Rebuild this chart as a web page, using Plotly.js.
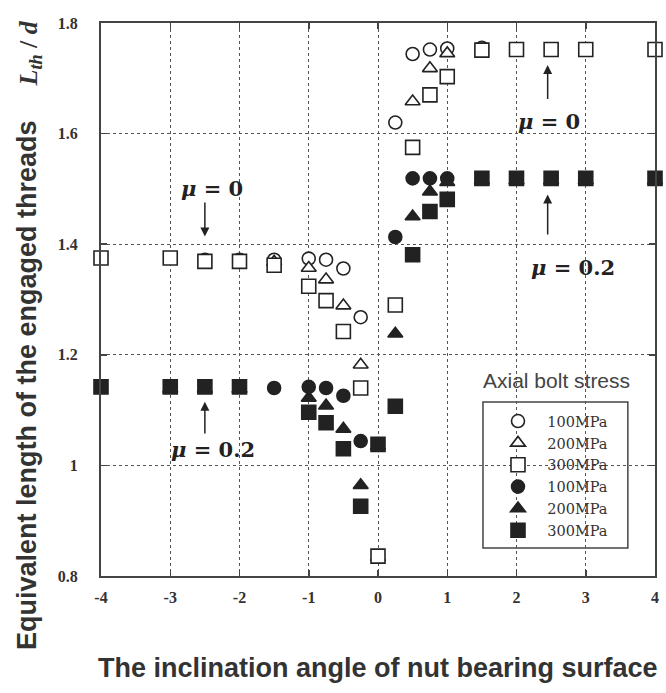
<!DOCTYPE html>
<html>
<head>
<meta charset="utf-8">
<script src="https://cdn.plot.ly/plotly-3.0.1.min.js"></script>
<style>html,body{margin:0;padding:0;background:#fff;}#chart{width:666px;height:693px;}</style>
</head>
<body>
<div id="chart"></div>
<script>
// ---- data (mu = 0, open markers) ----
const openCircleX = [-2.5, -2, -1.5, -1, -0.75, -0.5, -0.25, 0.25, 0.5, 0.75, 1, 1.5];
const openCircleY = [1.372, 1.372, 1.372, 1.374, 1.372, 1.356, 1.268, 1.62, 1.744, 1.752, 1.754, 1.755];
const openTriX = [-1.5, -1, -0.75, -0.5, -0.25, 0, 0.5, 0.75, 1];
const openTriY = [1.368, 1.357, 1.336, 1.289, 1.182, 0.834, 1.658, 1.718, 1.745];
const openSqX = [-4, -3, -2.5, -2, -1.5, -1, -0.75, -0.5, -0.25, 0, 0.25, 0.5, 0.75, 1, 1.5, 2, 2.5, 3, 4];
const openSqY = [1.375, 1.375, 1.369, 1.369, 1.362, 1.324, 1.298, 1.242, 1.14, 0.836, 1.29, 1.575, 1.67, 1.703, 1.751, 1.752, 1.752, 1.752, 1.752];
// ---- data (mu = 0.2, filled markers) ----
const fillCircleX = [-1.5, -1, -0.75, -0.5, -0.25, 0.25, 0.5, 0.75, 1];
const fillCircleY = [1.14, 1.142, 1.14, 1.126, 1.044, 1.413, 1.519, 1.519, 1.519];
const fillTriX = [-3, -2.5, -2, -1, -0.75, -0.5, -0.25, 0, 0.25, 0.5, 0.75, 1, 1.5, 2, 2.5, 3, 4];
const fillTriY = [1.138, 1.138, 1.138, 1.122, 1.108, 1.066, 0.964, 1.035, 1.238, 1.45, 1.495, 1.512, 1.515, 1.515, 1.515, 1.515, 1.515];
const fillSqX = [-4, -3, -2.5, -2, -1, -0.75, -0.5, -0.25, 0, 0.25, 0.5, 0.75, 1, 1.5, 2, 2.5, 3, 4];
const fillSqY = [1.142, 1.142, 1.142, 1.142, 1.096, 1.077, 1.03, 0.926, 1.038, 1.107, 1.381, 1.459, 1.481, 1.519, 1.519, 1.519, 1.519, 1.519];
// ---- labels ----
const seriesNames = ['100MPa', '200MPa', '300MPa', '100MPa', '200MPa', '300MPa'];
const xTickVals = [-4, -3, -2, -1, 0, 1, 2, 3, 4];
const xTickText = ['-4', '-3', '-2', '-1', '0', '1', '2', '3', '4'];
const yTickVals = [0.8, 1, 1.2, 1.4, 1.6, 1.8];
const yTickText = ['0.8', '1', '1.2', '1.4', '1.6', '1.8'];

const ink = '#222';
const nb = '\u00a0\u00a0';
function tr(x, y, name, symbol, fill, size) {
  return {
    x: x, y: y, name: nb + name, type: 'scatter', mode: 'markers',
    marker: {symbol: symbol, size: size, color: fill, line: {color: ink, width: 1.6}},
    cliponaxis: false
  };
}
const data = [
  tr(openCircleX, openCircleY, seriesNames[0], 'circle', '#fff', 13),
  tr(openTriX, openTriY, seriesNames[1], 'triangle-up', '#fff', 13),
  tr(openSqX, openSqY, seriesNames[2], 'square', '#fff', 14),
  tr(fillCircleX, fillCircleY, seriesNames[3], 'circle', ink, 13),
  tr(fillTriX, fillTriY, seriesNames[4], 'triangle-up', ink, 13),
  tr(fillSqX, fillSqY, seriesNames[5], 'square', ink, 14)
];

const tickFont = {family: 'Liberation Serif, Times New Roman, serif', size: 16, color: '#333', weight: 'bold'};
const muFont = {family: 'DejaVu Serif, serif', size: 21, color: '#222', weight: 'bold'};
const axisCommon = {
  showline: true, linecolor: '#444', linewidth: 2, mirror: 'ticks',
  ticks: 'inside', ticklen: 6, tickcolor: '#444', tickwidth: 1.5,
  showgrid: true, gridcolor: '#555', griddash: 'dot', gridwidth: 1,
  zeroline: false, tickfont: tickFont, tickmode: 'array'
};

function ann(x, y, text, font, extra) {
  return Object.assign({xref: 'paper', yref: 'paper', x: x, y: y, text: text, showarrow: false,
    xanchor: 'center', yanchor: 'middle', font: font}, extra || {});
}

const layout = {
  width: 666, height: 693,
  margin: {l: 101, r: 11, t: 23, b: 117},
  paper_bgcolor: '#fff', plot_bgcolor: '#fff',
  showlegend: true,
  xaxis: Object.assign({}, axisCommon, {range: [-4, 4], tickvals: xTickVals, ticktext: xTickText, ticklabelstandoff: 6}),
  yaxis: Object.assign({}, axisCommon, {range: [0.8, 1.8], tickvals: yTickVals, ticktext: yTickText, ticklabelstandoff: 18}),
  legend: {
    x: 0.7166, y: 0.309, xanchor: 'left', yanchor: 'top',
    bgcolor: 'rgba(0,0,0,0)', borderwidth: 0,
    font: {family: 'DejaVu Serif, serif', size: 14.5, color: '#333'},
    itemclick: false
  },
  shapes: [
    {type: 'rect', xref: 'paper', yref: 'paper', x0: 0.6895, x1: 0.951, y0: 0.0506, y1: 0.3146,
     line: {color: '#444', width: 1.5}, fillcolor: 'rgba(255,255,255,1)', layer: 'below'}
  ],
  annotations: [
    ann(0.823, 0.354, 'Axial bolt stress', {family: 'Liberation Sans, Arial, sans-serif', size: 21, color: '#444'}),
    ann(0.5, -0.166, 'The inclination angle of nut bearing surface',
        {family: 'Liberation Sans, Arial, sans-serif', size: 27, color: '#333', weight: 'bold'}),
    ann(-0.1336, 0.3454, 'Equivalent length of the engaged threads',
        {family: 'Liberation Sans, Arial, sans-serif', size: 27, color: '#333', weight: 'bold'}, {textangle: -90}),
    ann(-0.128, 0.945, '<i>L<sub>th</sub></i> / <i>d</i>',
        {family: 'Liberation Serif, Times New Roman, serif', size: 26, color: '#333', weight: 'bold'}, {textangle: -90}),
    // mu = 0 (left)
    {x: -2.5, y: 1.414, ax: -2.5, ay: 1.478, axref: 'x', ayref: 'y', text: '', showarrow: true,
     arrowhead: 2, arrowsize: 1.2, arrowwidth: 1.5, arrowcolor: '#222'},
    {x: -2.4, y: 1.501, text: '<i>μ</i> = 0', showarrow: false, font: muFont},
    // mu = 0 (right)
    {x: 2.45, y: 1.724, ax: 2.45, ay: 1.66, axref: 'x', ayref: 'y', text: '', showarrow: true,
     arrowhead: 2, arrowsize: 1.2, arrowwidth: 1.5, arrowcolor: '#222'},
    {x: 2.47, y: 1.622, text: '<i>μ</i> = 0', showarrow: false, font: muFont},
    // mu = 0.2 (right)
    {x: 2.45, y: 1.49, ax: 2.45, ay: 1.415, axref: 'x', ayref: 'y', text: '', showarrow: true,
     arrowhead: 2, arrowsize: 1.2, arrowwidth: 1.5, arrowcolor: '#222'},
    {x: 2.82, y: 1.357, text: '<i>μ</i> = 0.2', showarrow: false, font: muFont},
    // mu = 0.2 (left)
    {x: -2.5, y: 1.115, ax: -2.5, ay: 1.055, axref: 'x', ayref: 'y', text: '', showarrow: true,
     arrowhead: 2, arrowsize: 1.2, arrowwidth: 1.5, arrowcolor: '#222'},
    {x: -2.38, y: 1.029, text: '<i>μ</i> = 0.2', showarrow: false, font: muFont}
  ]
};

Plotly.newPlot('chart', data, layout, {staticPlot: true, displayModeBar: false});
</script>
</body>
</html>
